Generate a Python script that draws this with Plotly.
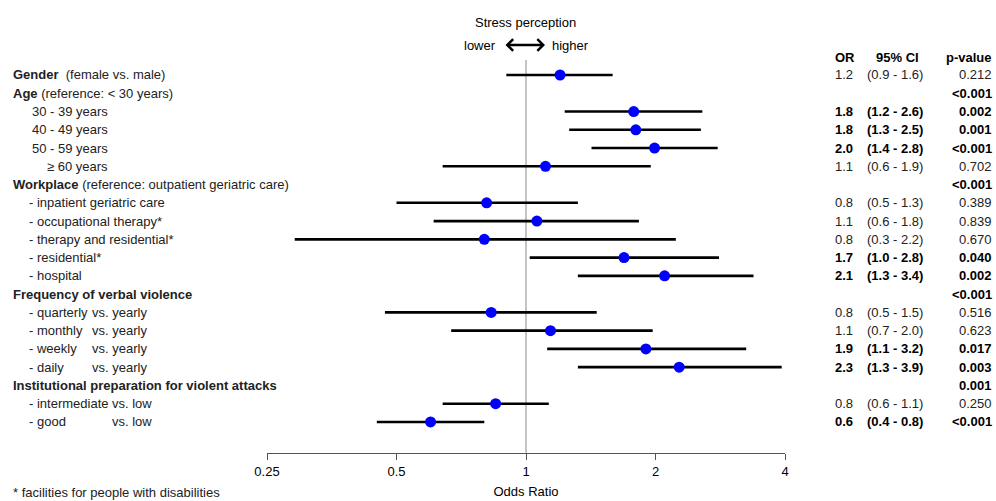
import math
import plotly.graph_objects as go

# ---------------- data ----------------
row_labels = [
    "<b>Gender</b>  (female vs. male)",
    "<b>Age</b> (reference: < 30 years)",
    "30 - 39 years",
    "40 - 49 years",
    "50 - 59 years",
    "≥ 60 years",
    "<b>Workplace</b> (reference: outpatient geriatric care)",
    "- inpatient geriatric care",
    "- occupational therapy*",
    "- therapy and residential*",
    "- residential*",
    "- hospital",
    "<b>Frequency of verbal violence</b>",
    "- quarterly",
    "- monthly",
    "- weekly",
    "- daily",
    "<b>Institutional preparation for violent attacks</b>",
    "- intermediate",
    "- good",
]
row_suffix = ["", "", "", "", "", "", "", "", "", "", "", "",
              "", "vs. yearly", "vs. yearly", "vs. yearly", "vs. yearly",
              "", "vs. low", "vs. low"]
row_indent = [0, 0, 2, 2, 2, 3, 0, 1, 1, 1, 1, 1, 0, 1, 1, 1, 1, 0, 1, 1]

or_est = [1.20, None, 1.78, 1.80, 1.99, 1.11, None, 0.81, 1.06, 0.80, 1.69, 2.10,
          None, 0.83, 1.14, 1.90, 2.27, None, 0.85, 0.60]
ci_lo = [0.90, None, 1.23, 1.26, 1.42, 0.64, None, 0.50, 0.61, 0.29, 1.02, 1.32,
         None, 0.47, 0.67, 1.12, 1.32, None, 0.64, 0.45]
ci_hi = [1.59, None, 2.57, 2.55, 2.79, 1.95, None, 1.32, 1.83, 2.23, 2.81, 3.38,
         None, 1.46, 1.97, 3.25, 3.93, None, 1.13, 0.80]

or_text = ["1.2", "", "1.8", "1.8", "2.0", "1.1", "", "0.8", "1.1", "0.8", "1.7", "2.1",
           "", "0.8", "1.1", "1.9", "2.3", "", "0.8", "0.6"]
ci_text = ["(0.9 - 1.6)", "", "(1.2 - 2.6)", "(1.3 - 2.5)", "(1.4 - 2.8)", "(0.6 - 1.9)", "",
           "(0.5 - 1.3)", "(0.6 - 1.8)", "(0.3 - 2.2)", "(1.0 - 2.8)", "(1.3 - 3.4)", "",
           "(0.5 - 1.5)", "(0.7 - 2.0)", "(1.1 - 3.2)", "(1.3 - 3.9)", "",
           "(0.6 - 1.1)", "(0.4 - 0.8)"]
p_text = ["0.212", "<0.001", "0.002", "0.001", "<0.001", "0.702", "<0.001",
          "0.389", "0.839", "0.670", "0.040", "0.002", "<0.001",
          "0.516", "0.623", "0.017", "0.003", "0.001", "0.250", "<0.001"]
bold = [False, True, True, True, True, False, True, False, False, False, True, True,
        True, False, False, True, True, True, False, True]

tick_vals = [0.25, 0.5, 1, 2, 4]
tick_text = ["0.25", "0.5", "1", "2", "4"]

# ---------------- layout geometry ----------------
W, H = 996, 501
def px(x):
    return x / W
def py(y):
    return (H - y) / H

ROW0, DY = 75.0, 18.26
AXIS_Y, TOP_Y = 453.0, 60.0
y_bottom = -(AXIS_Y - ROW0) / DY
y_top = (ROW0 - TOP_Y) / DY

FONT = "Liberation Sans, Arial, sans-serif"
FS = 13
TXT = "#222222"

rows_y = [-i for i in range(len(row_labels))]

# ---------------- traces ----------------
xs, ys, ep, em = [], [], [], []
for i, v in enumerate(or_est):
    if v is None:
        continue
    xs.append(v)
    ys.append(rows_y[i])
    ep.append(ci_hi[i] - v)
    em.append(v - ci_lo[i])

fig = go.Figure()
fig.add_trace(go.Scatter(
    x=xs, y=ys, mode="markers",
    marker=dict(color="#0000FF", size=11, line=dict(width=0)),
    error_x=dict(type="data", symmetric=False, array=ep, arrayminus=em,
                 color="black", thickness=2.6, width=0),
    hoverinfo="skip", showlegend=False, cliponaxis=False,
))

ann = []
indent_px = {0: 11, 1: 27, 2: 30, 3: 45}
for i, lab in enumerate(row_labels):
    ann.append(dict(x=px(indent_px[row_indent[i]]), y=rows_y[i], xref="paper", yref="y",
                    text=lab, showarrow=False, xanchor="left", yanchor="middle",
                    font=dict(family=FONT, size=FS, color=TXT)))
    if row_suffix[i]:
        sx = 89.5 if "yearly" in row_suffix[i] else 109.5
        ann.append(dict(x=px(sx), y=rows_y[i], xref="paper", yref="y",
                        text=row_suffix[i], showarrow=False, xanchor="left", yanchor="middle",
                        font=dict(family=FONT, size=FS, color=TXT)))
    def fmt(t):
        return "<b>%s</b>" % t if (bold[i] and t) else t
    col = "black" if bold[i] else TXT
    if or_text[i]:
        ann.append(dict(x=px(833), y=rows_y[i], xref="paper", yref="y", text=fmt(or_text[i]),
                        showarrow=False, xanchor="left", yanchor="middle",
                        font=dict(family=FONT, size=FS, color=col)))
    if ci_text[i]:
        ann.append(dict(x=px(895), y=rows_y[i], xref="paper", yref="y", text=fmt(ci_text[i]),
                        showarrow=False, xanchor="center", yanchor="middle",
                        font=dict(family=FONT, size=FS, color=col)))
    if p_text[i]:
        ann.append(dict(x=px(994), y=rows_y[i], xref="paper", yref="y", text=fmt(p_text[i].replace("<", "&lt;")),
                        showarrow=False, xanchor="right", yanchor="middle",
                        font=dict(family=FONT, size=FS, color=col)))

# column headers
for x, t, anc in [(833, "OR", "left"), (897, "95% CI", "center"), (994, "p-value", "right")]:
    ann.append(dict(x=px(x), y=py(57), xref="paper", yref="paper", text="<b>%s</b>" % t,
                    showarrow=False, xanchor=anc, yanchor="middle",
                    font=dict(family=FONT, size=FS, color="black")))

# stress perception header
ann.append(dict(x=px(525), y=py(22), xref="paper", yref="paper", text="Stress perception",
                showarrow=False, xanchor="center", yanchor="middle",
                font=dict(family=FONT, size=FS, color="black")))
ann.append(dict(x=px(498), y=py(45), xref="paper", yref="paper", text="lower",
                showarrow=False, xanchor="right", yanchor="middle",
                font=dict(family=FONT, size=FS, color="black")))
ann.append(dict(x=px(550), y=py(45), xref="paper", yref="paper", text="higher",
                showarrow=False, xanchor="left", yanchor="middle",
                font=dict(family=FONT, size=FS, color="black")))
ann.append(dict(x=px(545), y=py(45), xref="paper", yref="paper", text="",
                showarrow=True, ax=-41, ay=0, arrowside="end+start",
                arrowhead=4, arrowsize=0.9, arrowwidth=2.5, arrowcolor="black"))

# footnote
ann.append(dict(x=px(11), y=py(492), xref="paper", yref="paper",
                text="* facilities for people with disabilities",
                showarrow=False, xanchor="left", yanchor="middle",
                font=dict(family=FONT, size=FS, color=TXT)))

fig.update_layout(
    width=W, height=H, autosize=False,
    margin=dict(l=0, r=0, t=0, b=0, pad=0, autoexpand=False),
    paper_bgcolor="white", plot_bgcolor="white",
    annotations=ann,
    shapes=[dict(type="line", xref="x", yref="paper", x0=1, x1=1,
                 y0=py(AXIS_Y), y1=py(TOP_Y), line=dict(color="#c4c4c4", width=2), layer="below")],
    xaxis=dict(
        type="log", range=[math.log10(0.25), math.log10(4)],
        domain=[px(267), px(785)],
        tickvals=tick_vals, ticktext=tick_text,
        showgrid=False, zeroline=False,
        showline=True, linecolor="#555555", linewidth=1,
        ticks="outside", ticklen=6, tickcolor="#555555", tickwidth=1,
        tickfont=dict(family=FONT, size=FS, color="black"),
        title=dict(text="Odds Ratio", font=dict(family=FONT, size=FS, color="black"), standoff=9),
        anchor="y", automargin=False,
    ),
    yaxis=dict(
        range=[y_bottom, y_top], domain=[py(AXIS_Y), py(TOP_Y)],
        visible=False, showgrid=False, zeroline=False, automargin=False,
    ),
)

fig.write_html(
    "out.html",
    config={"responsive": False, "displayModeBar": False},
    post_script="document.documentElement.style.margin='0';document.body.style.margin='0';"
                "document.body.style.overflow='hidden';document.documentElement.style.overflow='hidden';",
)
